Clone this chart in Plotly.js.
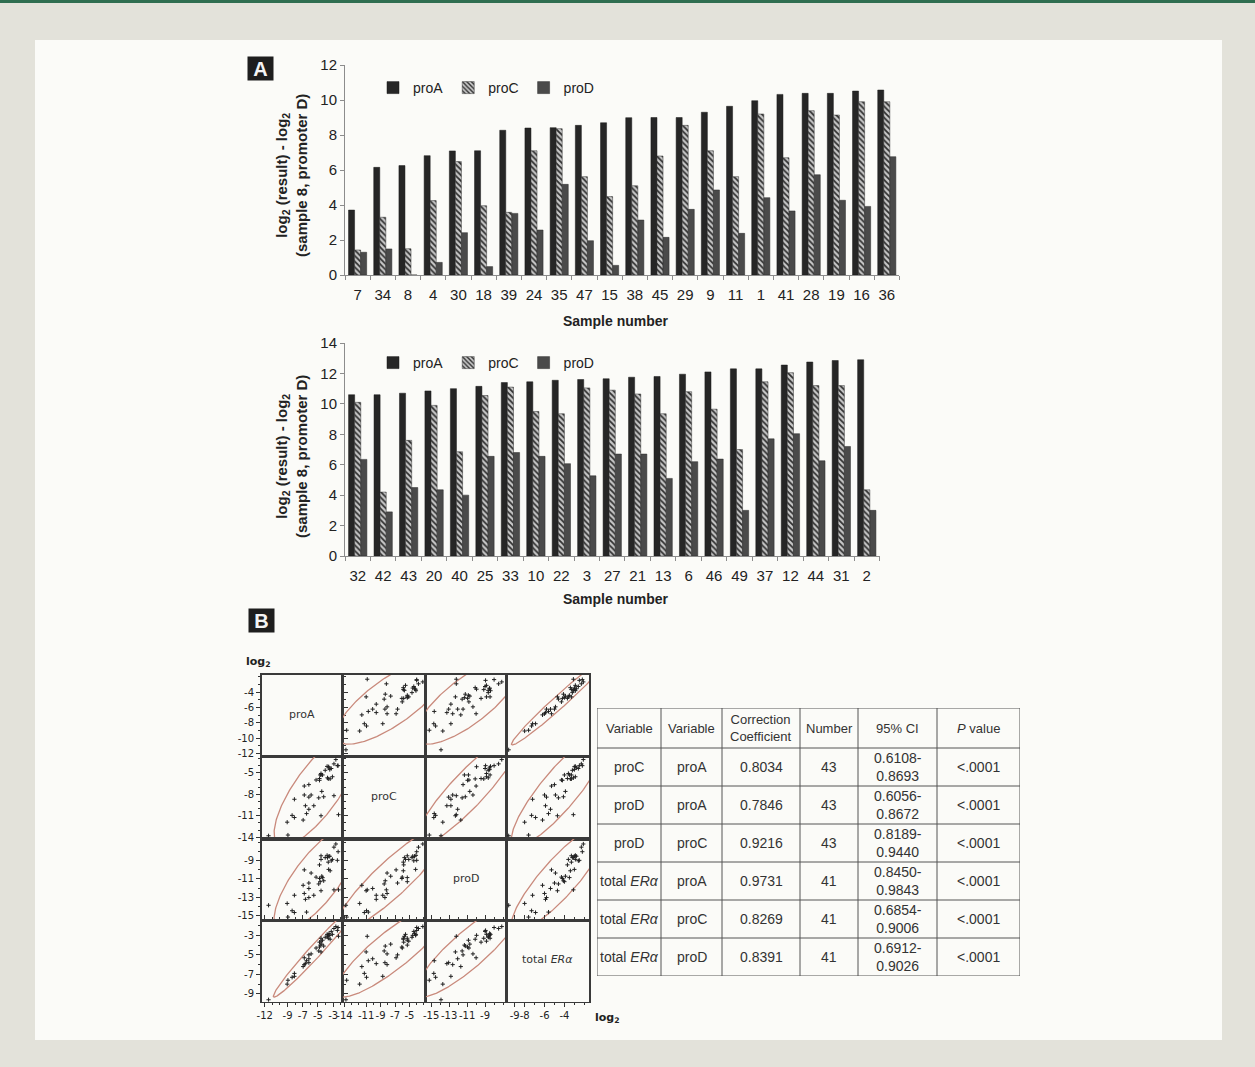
<!DOCTYPE html>
<html>
<head>
<meta charset="utf-8">
<script src="https://cdn.plot.ly/plotly-3.0.1.min.js"></script>
<style>
  html, body { margin: 0; padding: 0; background: #e3e2da; }
  #chart { width: 1255px; height: 1067px; }
</style>
</head>
<body>
<div id="chart"></div>
<script>
// ---------------- DATA ----------------
// Panel A, top chart
const topSamples = ["7","34","8","4","30","18","39","24","35","47","15","38","45","29","9","11","1","41","28","19","16","36"];
const topProA = [3.71,6.15,6.25,6.82,7.09,7.10,8.27,8.40,8.42,8.55,8.70,8.99,9.00,9.00,9.30,9.64,9.96,10.32,10.38,10.38,10.51,10.57];
const topProC = [1.43,3.30,1.50,4.25,6.48,3.96,3.58,7.10,8.36,5.62,4.48,5.10,6.80,8.55,7.10,5.62,9.20,6.70,9.39,9.14,9.90,9.90];
const topProD = [1.30,1.49,0,0.72,2.42,0.48,3.52,2.57,5.18,1.96,0.55,3.14,2.15,3.75,4.86,2.38,4.42,3.66,5.73,4.27,3.92,6.76];

// Panel A, bottom chart
const botSamples = ["32","42","43","20","40","25","33","10","22","3","27","21","13","6","46","49","37","12","44","31","2"];
const botProA = [10.60,10.60,10.70,10.85,11.00,11.15,11.40,11.45,11.55,11.60,11.65,11.75,11.80,11.95,12.10,12.30,12.30,12.55,12.75,12.85,12.90];
const botProC = [10.10,4.20,7.60,9.90,6.85,10.55,11.10,9.50,9.35,11.05,10.90,10.65,9.35,10.80,9.65,7.00,11.45,12.05,11.20,11.20,4.35];
const botProD = [6.35,2.90,4.50,4.35,4.00,6.55,6.80,6.55,6.07,5.27,6.70,6.70,5.10,6.20,6.37,3.00,7.70,8.04,6.26,7.20,3.00];

// Panel B, scatter matrix (log2 values per sample)
const scProA = [-11.5,-9.05,-8.95,-8.4,-8.1,-8.1,-6.95,-6.8,-6.8,-6.65,-6.5,-6.2,-6.2,-6.2,-5.9,-5.55,-5.25,-4.9,-4.8,-4.8,-4.7,-4.6,
                -4.6,-4.6,-4.5,-4.4,-4.25,-4.05,-3.8,-3.75,-3.65,-3.6,-3.55,-3.45,-3.4,-3.25,-3.1,-2.9,-2.9,-2.65,-2.45,-2.35,-2.3];
const scProC = [-13.8,-11.9,-13.7,-10.95,-8.7,-11.25,-11.6,-8.1,-6.85,-9.6,-10.7,-10.1,-8.4,-6.65,-8.1,-9.6,-6.0,-8.5,-5.8,-6.05,-5.3,-5.3,
                -5.1,-11.0,-7.6,-5.3,-8.35,-4.65,-4.1,-5.7,-5.85,-4.15,-4.3,-4.55,-5.85,-4.4,-5.55,-8.2,-3.75,-3.15,-4.0,-4.0,-10.85];
const scProD = [-13.9,-13.7,-15.2,-14.5,-12.8,-14.7,-11.7,-12.6,-10.0,-13.25,-14.65,-12.05,-13.05,-11.45,-10.35,-12.8,-10.8,-11.55,-9.45,-10.95,-11.3,-8.45,
                -8.85,-12.3,-10.7,-10.85,-11.2,-8.65,-8.4,-8.65,-9.15,-9.95,-8.5,-8.5,-10.1,-9.0,-8.85,-12.2,-7.5,-7.15,-8.95,-8.0,-12.2];
const scTotalER = [-9.6,-8.0,-7.6,-7.3,-7.2,-6.9,-6.2,-6.0,-5.3,-5.9,-5.6,-5.4,-5.8,-5.0,-4.9,null,-4.3,-4.6,-3.7,-4.2,-4.0,-3.3,
                -3.6,-4.7,-3.9,-3.5,-4.1,-3.2,-2.9,-3.1,-3.3,-3.0,-2.8,-3.0,-3.4,-2.6,-2.9,null,-2.3,-2.1,-2.5,-2.2,-3.1];
const scLabels = ["proA","proC","proD","total <i>ERα</i>"];
const scXTicks = [[-12,-9,-7,-5,-3],[-14,-11,-9,-7,-5],[-15,-13,-11,-9],[-9,-8,-6,-4]];
const scYTicks = [[-12,-10,-8,-6,-4],[-14,-11,-8,-5],[-15,-13,-11,-9],[-9,-7,-5,-3]];
const scRanges = [[-12.4,-1.75],[-14.25,-2.75],[-15.6,-6.6],[-9.8,-1.5]];

// Table
const tblHeader = ["Variable","Variable","Correction<br>Coefficient","Number","95% CI","<i>P</i> value"];
const tblVar1 = ["proC","proD","proD","total <i>ERα</i>","total <i>ERα</i>","total <i>ERα</i>"];
const tblVar2 = ["proA","proA","proC","proA","proC","proD"];
const tblCoef = ["0.8034","0.7846","0.9216","0.9731","0.8269","0.8391"];
const tblN = ["43","43","43","41","41","41"];
const tblCI = ["0.6108-<br>0.8693","0.6056-<br>0.8672","0.8189-<br>0.9440","0.8450-<br>0.9843","0.6854-<br>0.9006","0.6912-<br>0.9026"];
const tblP = ["<.0001","<.0001","<.0001","<.0001","<.0001","<.0001"];

// ---------------- LAYOUT HELPERS ----------------
const W = 1255, H = 1067;
const px = x => x / W;
const py = y => 1 - y / H;
const FONT = "Liberation Sans, Arial, sans-serif";
const SCFONT = "DejaVu Sans, Verdana, sans-serif";
const BG = "#fbfbf8";

const traces = [];
const layout = {
  width: W, height: H,
  margin: {l: 0, r: 0, t: 0, b: 0},
  paper_bgcolor: "#e3e2da",
  plot_bgcolor: "rgba(0,0,0,0)",
  font: {family: FONT, color: "#222"},
  bargap: 0.28, bargroupgap: 0,
  barmode: "group",
  shapes: [
    {type: "rect", xref: "paper", yref: "paper", x0: px(35), x1: px(1222), y0: py(1040), y1: py(40),
     fillcolor: BG, line: {width: 0}, layer: "below"},
    {type: "rect", xref: "paper", yref: "paper", x0: 0, x1: 1, y0: py(3), y1: 1,
     fillcolor: "#2f6e50", line: {width: 0}, layer: "below"}
  ],
  annotations: []
};
const paperNote = (x, y, text, font, extra) => Object.assign({
  xref: "paper", yref: "paper", x: px(x), y: py(y), xanchor: "center", yanchor: "middle",
  text: text, showarrow: false, font: font}, extra || {});

// ---------------- BAR CHARTS ----------------
const barStyles = {
  proA: {color: "#262626", line: {color: "#1a1a1a", width: 0.5}},
  proC: {color: "#c4c4c4", line: {color: "#333", width: 0.5},
         pattern: {shape: "\\", fgcolor: "#2e2e2e", bgcolor: "#c8c8c8", size: 4, solidity: 0.45}},
  proD: {color: "#4a4a4a", line: {color: "#2a2a2a", width: 0.5}}
};

function addBars(cats, a, c, d, xa, ya, leg) {
  [["proA", a], ["proC", c], ["proD", d]].forEach(([name, vals]) => {
    traces.push({type: "bar", name: name, x: cats, y: vals, xaxis: xa, yaxis: ya,
      marker: barStyles[name], legend: leg, hoverinfo: "x+y+name"});
  });
}
addBars(topSamples, topProA, topProC, topProD, "x5", "y5", "legend");
addBars(botSamples, botProA, botProC, botProD, "x6", "y6", "legend2");

const barX = (dom, anchor) => ({
  domain: dom, anchor: anchor, type: "category", tickangle: 0,
  showline: true, linecolor: "#8c8c8c", linewidth: 1,
  ticks: "outside", tickson: "boundaries", ticklen: 4, tickcolor: "#8c8c8c", ticklabelstandoff: 6,
  tickfont: {size: 15, color: "#222", family: FONT}, showgrid: false, zeroline: false, fixedrange: true
});
const barY = (dom, anchor, rng) => ({
  domain: dom, anchor: anchor, range: rng, dtick: 2,
  showline: true, linecolor: "#8c8c8c", linewidth: 1,
  ticks: "outside", ticklen: 4, tickcolor: "#8c8c8c",
  tickfont: {size: 15, color: "#222", family: FONT}, showgrid: false, zeroline: false, fixedrange: true
});
layout.xaxis5 = barX([px(345), px(899.4)], "y5");
layout.yaxis5 = barY([py(275), py(65)], "x5", [0, 12]);
layout.xaxis6 = barX([px(345), px(879.5)], "y6");
layout.yaxis6 = barY([py(556), py(343)], "x6", [0, 14]);

const legendStyle = (yc) => ({
  x: px(373), y: py(yc), xanchor: "left", yanchor: "middle", orientation: "h",
  font: {size: 14, family: FONT, color: "#222"}, bgcolor: "rgba(0,0,0,0)",
  itemwidth: 30, traceorder: "normal", itemclick: false, itemdoubleclick: false
});
layout.legend = legendStyle(88);
layout.legend2 = legendStyle(363);

const yTitle = "log<sub>2</sub> (result) - log<sub>2</sub><br>(sample 8, promoter D)";
const boldTitle = {size: 15, family: FONT, weight: "bold", color: "#222"};
[176, 457].forEach(yc => layout.annotations.push(paperNote(292, yc, yTitle, boldTitle, {textangle: -90})));
[321, 599].forEach(yc => layout.annotations.push(paperNote(616, yc, "Sample number",
  {size: 14, family: FONT, weight: "bold", color: "#222"})));
// Panel letters
[["A", 260, 69], ["B", 261, 620]].forEach(([t, xc, yc]) => {
  layout.annotations.push(paperNote(xc, yc, "<b>" + t + "</b>", {size: 20, family: FONT, color: "#f4f4f4"},
    {bgcolor: "#1e1e1e", width: 25, height: 23, borderpad: 0}));
});

// ---------------- SCATTER MATRIX ----------------
const scVars = [scProA, scProC, scProD, scTotalER];
const colEdges = [261.7, 342.7, 425.7, 506.7, 589.3];
const rowEdges = [675, 756.7, 839, 920.7, 1001.7];
const axName = (k, letter) => letter + (k === 0 ? "" : (k + 1));
const hy = v => String(v).replace("\u2212", "-");

for (let j = 0; j < 4; j++) {
  layout["xaxis" + (j === 0 ? "" : (j + 1))] = {
    domain: [px(colEdges[j]), px(colEdges[j + 1])], anchor: "y4", range: scRanges[j],
    tickmode: "array", tickvals: scXTicks[j], ticktext: scXTicks[j].map(hy), tickangle: 0,
    ticks: "outside", ticklen: 4, tickcolor: "#333",
    minor: {dtick: 1, ticks: "outside", ticklen: 2, tickcolor: "#333"},
    showline: true, mirror: "all", linecolor: "#3a3a3a", linewidth: 1.6,
    tickfont: {size: 10, family: SCFONT, color: "#222"}, showgrid: false, zeroline: false, fixedrange: true
  };
}
for (let i = 0; i < 4; i++) {
  layout["yaxis" + (i === 0 ? "" : (i + 1))] = {
    domain: [py(rowEdges[i + 1]), py(rowEdges[i])], anchor: "x", range: scRanges[i],
    tickmode: "array", tickvals: scYTicks[i], ticktext: scYTicks[i].map(hy),
    ticks: "outside", ticklen: 4, tickcolor: "#333",
    minor: {dtick: 1, ticks: "outside", ticklen: 2, tickcolor: "#333"},
    showline: true, mirror: "all", linecolor: "#3a3a3a", linewidth: 1.6,
    tickfont: {size: 10, family: SCFONT, color: "#222"}, showgrid: false, zeroline: false, fixedrange: true
  };
}

// 95% density ellipse computed from each pair's mean and covariance
function ellipse(xs, ys) {
  const ax = [], ay = [];
  xs.forEach((v, k) => { if (v != null && ys[k] != null) { ax.push(v); ay.push(ys[k]); } });
  const n = ax.length;
  const mx = ax.reduce((a, b) => a + b, 0) / n, my = ay.reduce((a, b) => a + b, 0) / n;
  let sxx = 0, syy = 0, sxy = 0;
  for (let k = 0; k < n; k++) {
    sxx += (ax[k] - mx) ** 2; syy += (ay[k] - my) ** 2; sxy += (ax[k] - mx) * (ay[k] - my);
  }
  sxx /= (n - 1); syy /= (n - 1); sxy /= (n - 1);
  const tr = sxx + syy, det = sxx * syy - sxy * sxy;
  const disc = Math.sqrt(Math.max(tr * tr / 4 - det, 0));
  const l1 = tr / 2 + disc, l2 = Math.max(tr / 2 - disc, 0);
  const th = 0.5 * Math.atan2(2 * sxy, sxx - syy);
  const c = 2.7;
  const ex = [], ey = [];
  for (let t = 0; t <= 240; t++) {
    const a = 2 * Math.PI * t / 240;
    const u = c * Math.sqrt(l1) * Math.cos(a), v = c * Math.sqrt(l2) * Math.sin(a);
    ex.push(mx + u * Math.cos(th) - v * Math.sin(th));
    ey.push(my + u * Math.sin(th) + v * Math.cos(th));
  }
  return [ex, ey];
}

for (let i = 0; i < 4; i++) {
  for (let j = 0; j < 4; j++) {
    const xa = axName(j, "x"), ya = axName(i, "y");
    if (i === j) {
      traces.push({type: "scatter", x: [null], y: [null], xaxis: xa, yaxis: ya, showlegend: false, hoverinfo: "skip"});
      layout.annotations.push({xref: xa + " domain", yref: ya + " domain", x: 0.5, y: 0.52,
        xanchor: "center", yanchor: "middle",
        text: scLabels[i], showarrow: false, font: {size: 11, family: SCFONT, color: "#333"}});
      continue;
    }
    const [ex, ey] = ellipse(scVars[j], scVars[i]);
    traces.push({type: "scatter", mode: "lines", x: ex, y: ey, xaxis: xa, yaxis: ya,
      line: {color: "#c98a7c", width: 1.3}, showlegend: false, hoverinfo: "skip"});
    traces.push({type: "scatter", mode: "markers", x: scVars[j], y: scVars[i], xaxis: xa, yaxis: ya,
      marker: {symbol: "cross-thin-open", size: 3, color: "#222", line: {color: "#222", width: 1}},
      showlegend: false});
  }
}
const logFont = {size: 11, family: SCFONT, color: "#222", weight: "bold"};
layout.annotations.push(paperNote(258, 662, "log<sub>2</sub>", logFont));
layout.annotations.push(paperNote(607, 1018, "log<sub>2</sub>", logFont));

// ---------------- TABLE (drawn on its own hidden axes) ----------------
const colW = [64, 61, 78, 58, 79, 83];
const headH = 40, rowH = 38;
const colX = [0];
colW.forEach(w => colX.push(colX[colX.length - 1] + w));
const tblW = colX[colX.length - 1];
const tblH = headH + rowH * tblVar1.length;
layout.xaxis7 = {domain: [px(597), px(597 + tblW)], anchor: "y7", range: [0, tblW], visible: false, fixedrange: true};
layout.yaxis7 = {domain: [py(708 + tblH), py(708)], anchor: "x7", range: [tblH, 0], visible: false, fixedrange: true};
traces.push({type: "scatter", x: [null], y: [null], xaxis: "x7", yaxis: "y7", showlegend: false, hoverinfo: "skip"});

const tblLine = {color: "#555", width: 1};
for (let r = 0; r <= tblVar1.length + 1; r++) {
  const yv = r === 0 ? 0 : headH + rowH * (r - 1);
  layout.shapes.push({type: "line", xref: "x7", yref: "y7", x0: 0, x1: tblW, y0: yv, y1: yv, line: tblLine});
}
colX.forEach(xv => layout.shapes.push({type: "line", xref: "x7", yref: "y7", x0: xv, x1: xv, y0: 0, y1: tblH, line: tblLine}));

const tblFont = {size: 13, family: FONT, color: "#333"};
tblHeader.forEach((t, c) => layout.annotations.push({xref: "x7", yref: "y7",
  x: (colX[c] + colX[c + 1]) / 2, y: headH / 2, xanchor: "center", yanchor: "middle",
  text: t, showarrow: false, font: tblFont}));
const tblCols = [tblVar1, tblVar2, tblCoef, tblN, tblCI, tblP];
tblCols.forEach((col, c) => col.forEach((t, r) => layout.annotations.push({xref: "x7", yref: "y7",
  x: (colX[c] + colX[c + 1]) / 2, y: headH + rowH * r + rowH / 2, xanchor: "center", yanchor: "middle",
  text: t, showarrow: false, font: {size: 14, family: FONT, color: "#333"}})));

Plotly.newPlot("chart", traces, layout, {staticPlot: true, displayModeBar: false});
</script>
</body>
</html>
